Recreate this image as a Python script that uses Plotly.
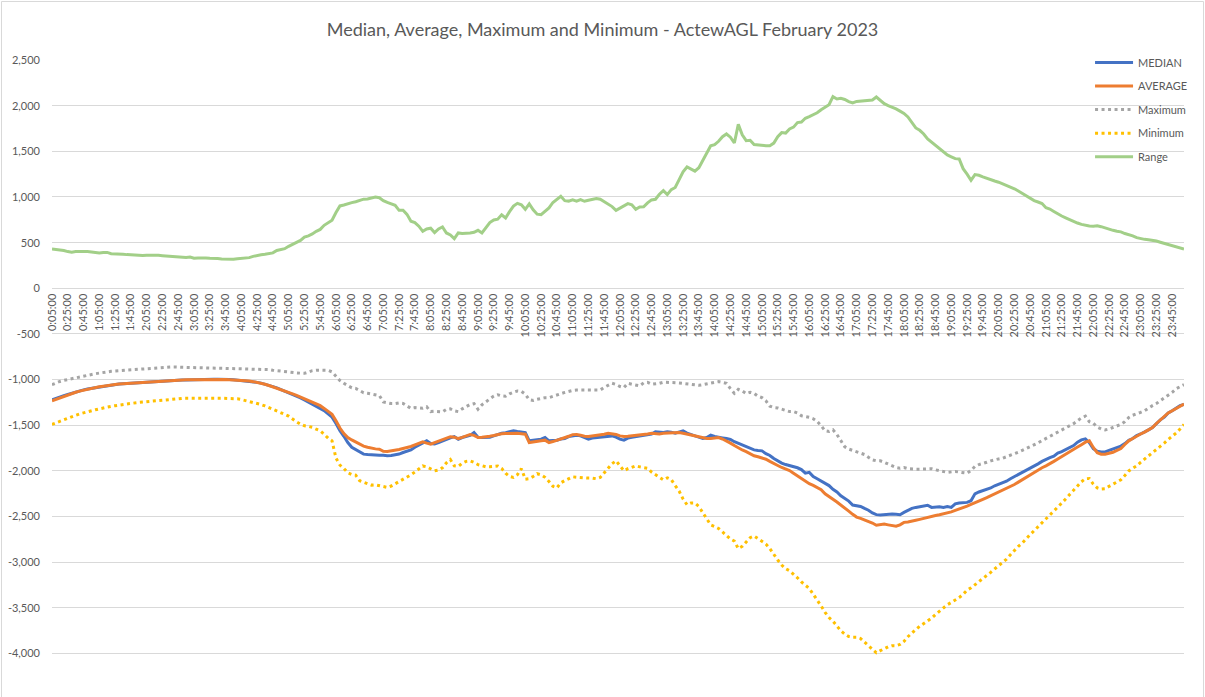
import plotly.graph_objects as go

# ---- categories: 5-minute intervals 0:05:00 .. 0:00:00 (288 points) ----
TIMES = []
for k in range(1, 289):
    m = 5 * k
    h = (m // 60) % 24
    TIMES.append(f"{h}:{m % 60:02d}:00")

MEDIAN = [
    -1222, -1205, -1190, -1175, -1163, -1150, -1131, -1122, -1112, -1102, -1095, -1085,
    -1075, -1070, -1062, -1056, -1052, -1048, -1045, -1042, -1040, -1035, -1030, -1026,
    -1024, -1021, -1019, -1015, -1012, -1009, -1007, -1006, -1005, -1004, -1003, -1001,
    -1000, -999, -998, -997, -996, -995, -996, -995, -996, -998, -1000, -1004,
    -1008, -1011, -1015, -1022, -1030, -1038, -1048, -1062, -1076, -1090, -1108, -1125,
    -1140, -1160, -1180, -1200, -1222, -1245, -1262, -1290, -1310, -1340, -1375, -1410,
    -1480, -1560, -1620, -1689, -1740, -1765, -1790, -1816, -1820, -1825, -1832, -1829,
    -1828, -1834, -1830, -1823, -1815, -1798, -1785, -1769, -1740, -1715, -1692, -1670,
    -1700, -1705, -1689, -1670, -1652, -1638, -1623, -1652, -1634, -1622, -1610, -1579,
    -1630, -1634, -1634, -1630, -1616, -1600, -1587, -1580, -1572, -1561, -1568, -1576,
    -1579, -1670, -1666, -1660, -1652, -1634, -1670, -1666, -1663, -1650, -1645, -1623,
    -1612, -1608, -1616, -1635, -1652, -1640, -1634, -1634, -1630, -1623, -1616, -1630,
    -1652, -1663, -1640, -1630, -1623, -1615, -1608, -1600, -1597, -1572, -1578, -1579,
    -1572, -1575, -1587, -1575, -1561, -1585, -1600, -1616, -1635, -1645, -1634, -1608,
    -1623, -1634, -1638, -1645, -1655, -1680, -1698, -1718, -1735, -1754, -1769, -1775,
    -1780, -1810, -1830, -1863, -1890, -1914, -1930, -1940, -1951, -1965, -1985, -2024,
    -2015, -2060, -2085, -2107, -2135, -2160, -2200, -2230, -2271, -2300, -2330, -2373,
    -2380, -2388, -2410, -2430, -2460, -2478, -2483, -2478, -2472, -2472, -2475, -2479,
    -2454, -2430, -2410, -2399, -2390, -2378, -2375, -2399, -2394, -2393, -2399, -2390,
    -2399, -2360, -2350, -2344, -2344, -2326, -2250, -2230, -2216, -2203, -2186, -2162,
    -2144, -2130, -2112, -2085, -2062, -2045, -2020, -1995, -1975, -1950, -1922, -1895,
    -1871, -1855, -1838, -1805, -1788, -1765, -1745, -1722, -1685, -1660, -1648, -1690,
    -1755, -1785, -1791, -1791, -1775, -1758, -1743, -1728, -1700, -1665, -1645, -1612,
    -1595, -1575, -1550, -1525, -1480, -1440, -1410, -1365, -1340, -1315, -1285, -1270,
]

AVERAGE = [
    -1232, -1215, -1198, -1182, -1168, -1155, -1138, -1126, -1115, -1105, -1097, -1088,
    -1078, -1072, -1064, -1058, -1053, -1049, -1046, -1043, -1040, -1036, -1031, -1027,
    -1024, -1021, -1018, -1015, -1012, -1009, -1007, -1005, -1004, -1003, -1002, -1001,
    -1000, -999, -998, -997, -997, -996, -997, -997, -998, -1000, -1002, -1005,
    -1008, -1011, -1016, -1022, -1030, -1040, -1050, -1064, -1078, -1092, -1108, -1122,
    -1138, -1155, -1172, -1190, -1210, -1228, -1245, -1262, -1285, -1315, -1345, -1380,
    -1450, -1530, -1590, -1634, -1660, -1685, -1710, -1728, -1740, -1752, -1758, -1762,
    -1785, -1786, -1780, -1774, -1765, -1754, -1745, -1732, -1715, -1700, -1681, -1695,
    -1707, -1690, -1675, -1660, -1645, -1625, -1630, -1645, -1632, -1620, -1600, -1610,
    -1634, -1630, -1627, -1620, -1612, -1598, -1592, -1590, -1588, -1587, -1587, -1592,
    -1597, -1689, -1685, -1678, -1670, -1663, -1689, -1678, -1665, -1652, -1635, -1620,
    -1602, -1600, -1608, -1620, -1622, -1618, -1612, -1608, -1598, -1587, -1592, -1600,
    -1616, -1623, -1620, -1616, -1612, -1608, -1600, -1595, -1588, -1591, -1594, -1588,
    -1587, -1587, -1585, -1579, -1588, -1597, -1605, -1615, -1630, -1640, -1645, -1645,
    -1640, -1634, -1650, -1670, -1695, -1722, -1750, -1770, -1788, -1810, -1834, -1845,
    -1855, -1871, -1895, -1914, -1940, -1962, -1975, -1995, -2025, -2055, -2085, -2115,
    -2140, -2158, -2180, -2205, -2250, -2285, -2310, -2340, -2370, -2400, -2440, -2475,
    -2505, -2519, -2535, -2548, -2570, -2595, -2592, -2582, -2590, -2599, -2605, -2590,
    -2563, -2558, -2553, -2540, -2530, -2518, -2508, -2497, -2488, -2480, -2472, -2462,
    -2448, -2432, -2418, -2403, -2385, -2367, -2345, -2326, -2310, -2292, -2272, -2252,
    -2235, -2214, -2192, -2170, -2148, -2122, -2095, -2070, -2045, -2018, -1993, -1965,
    -1944, -1922, -1895, -1868, -1840, -1814, -1788, -1762, -1738, -1712, -1685, -1670,
    -1743, -1800, -1816, -1816, -1805, -1795, -1775, -1755, -1710, -1670, -1645, -1615,
    -1595, -1575, -1550, -1525, -1480, -1440, -1410, -1365, -1340, -1315, -1285, -1268,
]

MAXIMUM = [
    -1055, -1035, -1020, -1008, -998, -988, -978, -967, -958, -950, -942, -935,
    -928, -920, -913, -909, -905, -902, -898, -894, -889, -885, -880, -876,
    -873, -870, -868, -866, -864, -862, -862, -862, -863, -863, -864, -864,
    -865, -865, -866, -867, -868, -869, -870, -872, -874, -876, -876, -878,
    -879, -880, -882, -883, -885, -886, -887, -890, -897, -903, -910, -916,
    -918, -922, -926, -929, -931, -918, -902, -896, -894, -896, -898, -915,
    -960, -1010, -1040, -1070, -1090, -1096, -1120, -1143, -1149, -1155, -1165, -1175,
    -1244, -1256, -1262, -1262, -1255, -1260, -1290, -1315, -1306, -1310, -1313, -1298,
    -1350, -1346, -1350, -1353, -1325, -1320, -1342, -1350, -1320, -1295, -1272, -1262,
    -1324, -1275, -1240, -1210, -1180, -1165, -1178, -1182, -1155, -1138, -1124, -1128,
    -1160, -1220, -1228, -1215, -1203, -1197, -1197, -1180, -1166, -1154, -1140, -1127,
    -1118, -1114, -1113, -1113, -1113, -1113, -1113, -1113, -1085, -1060, -1040, -1052,
    -1075, -1087, -1040, -1050, -1062, -1068, -1035, -1030, -1050, -1046, -1040, -1028,
    -1027, -1030, -1033, -1036, -1040, -1044, -1050, -1056, -1062, -1055, -1045, -1035,
    -1028, -1022, -1030, -1040, -1098, -1150, -1106, -1124, -1153, -1138, -1150, -1182,
    -1197, -1232, -1290, -1306, -1310, -1325, -1340, -1350, -1350, -1365, -1395, -1402,
    -1412, -1428, -1458, -1505, -1560, -1568, -1550, -1600, -1670, -1735, -1760, -1775,
    -1791, -1800, -1820, -1850, -1878, -1889, -1889, -1905, -1925, -1944, -1962, -1970,
    -1962, -1975, -1980, -1980, -1980, -1978, -1972, -1975, -1987, -1998, -2008, -2015,
    -2010, -2005, -2012, -2018, -2025, -1995, -1950, -1930, -1920, -1905, -1889, -1875,
    -1868, -1860, -1845, -1830, -1818, -1795, -1775, -1756, -1737, -1715, -1692, -1667,
    -1645, -1622, -1600, -1578, -1555, -1530, -1505, -1482, -1450, -1418, -1400, -1460,
    -1477, -1520, -1540, -1550, -1540, -1525, -1508, -1490, -1460, -1415, -1390, -1370,
    -1358, -1340, -1310, -1285, -1262, -1235, -1200, -1170, -1140, -1100, -1075, -1055,
]

MINIMUM = [
    -1490, -1472, -1455, -1440, -1425, -1408, -1390, -1375, -1362, -1350, -1340, -1330,
    -1320, -1308, -1300, -1292, -1285, -1278, -1271, -1264, -1258, -1253, -1249, -1245,
    -1242, -1238, -1235, -1231, -1227, -1222, -1218, -1214, -1210, -1205, -1204, -1204,
    -1204, -1204, -1204, -1204, -1204, -1204, -1204, -1204, -1204, -1205, -1207, -1210,
    -1218, -1228, -1238, -1250, -1260, -1273, -1288, -1305, -1320, -1338, -1355, -1380,
    -1400, -1435, -1462, -1488, -1506, -1512, -1522, -1543, -1560, -1598, -1640, -1670,
    -1860, -1935, -1972, -2020, -2040, -2046, -2107, -2123, -2140, -2155, -2152, -2160,
    -2173, -2180, -2165, -2142, -2110, -2088, -2068, -2042, -2012, -1975, -1945, -1955,
    -1975, -1998, -1990, -1965, -1910, -1875, -1945, -1950, -1915, -1895, -1889, -1905,
    -1930, -1946, -1954, -1954, -1950, -1945, -1972, -2025, -2060, -2070, -2040, -1975,
    -2090, -2085, -2060, -2030, -2042, -2070, -2115, -2168, -2185, -2130, -2105, -2080,
    -2064, -2068, -2073, -2077, -2078, -2078, -2085, -2070, -2020, -1960, -1920, -1889,
    -1944, -1998, -1975, -1955, -1944, -1955, -1962, -1970, -2012, -2040, -2075, -2097,
    -2075, -2095, -2160, -2220, -2308, -2370, -2352, -2352, -2390, -2455, -2530, -2590,
    -2608, -2630, -2668, -2710, -2745, -2768, -2850, -2825, -2775, -2730, -2712, -2740,
    -2765, -2800, -2850, -2915, -2975, -3030, -3070, -3093, -3128, -3170, -3215, -3248,
    -3287, -3350, -3410, -3478, -3548, -3605, -3645, -3697, -3750, -3786, -3812, -3820,
    -3820, -3835, -3872, -3910, -3953, -3991, -3968, -3945, -3926, -3913, -3914, -3900,
    -3867, -3815, -3770, -3736, -3700, -3670, -3640, -3612, -3572, -3535, -3502, -3465,
    -3440, -3415, -3387, -3350, -3305, -3280, -3248, -3215, -3182, -3148, -3110, -3073,
    -3040, -3005, -2965, -2917, -2867, -2826, -2790, -2740, -2696, -2654, -2612, -2570,
    -2525, -2482, -2440, -2398, -2352, -2306, -2258, -2208, -2162, -2118, -2085, -2082,
    -2144, -2185, -2199, -2195, -2168, -2145, -2120, -2097, -2050, -2000, -1970, -1944,
    -1905, -1870, -1838, -1805, -1772, -1735, -1695, -1655, -1622, -1585, -1540, -1492,
]

RANGE = [
    431, 427, 423, 414, 402, 395, 402, 405, 405, 403, 398, 392,
    387, 391, 393, 378, 378, 380, 374, 369, 365, 361, 359, 358,
    361, 363, 365, 361, 357, 354, 351, 350, 350, 340, 338, 343,
    330, 333, 336, 331, 328, 331, 326, 321, 318, 314, 319, 324,
    328, 332, 336, 350, 362, 367, 372, 380, 388, 415, 428, 434,
    460, 485, 504, 525, 560, 575, 595, 624, 645, 690, 720, 745,
    830, 902, 912, 927, 938, 948, 962, 976, 978, 985, 1000, 992,
    960, 940, 925, 910, 854, 854, 810, 734, 720, 680, 624, 650,
    658, 610, 650, 672, 606, 585, 544, 606, 600, 599, 605, 613,
    635, 606, 670, 720, 748, 757, 805, 770, 840, 900, 930, 915,
    865, 925, 860, 812, 807, 845, 880, 940, 975, 1007, 960, 955,
    968, 955, 971, 953, 965, 978, 984, 975, 948, 928, 895, 854,
    878, 905, 927, 914, 865, 890, 892, 935, 968, 975, 1030, 1070,
    1026, 1080, 1104, 1190, 1275, 1329, 1305, 1283, 1320, 1400, 1464, 1560,
    1573, 1610, 1660, 1690, 1655, 1591, 1795, 1680, 1617, 1621, 1575, 1568,
    1564, 1562, 1561, 1590, 1660, 1705, 1700, 1745, 1765, 1815, 1820, 1862,
    1880, 1900, 1922, 1955, 1982, 2010, 2098, 2073, 2080, 2068, 2044, 2029,
    2046, 2048, 2050, 2055, 2062, 2095, 2055, 2022, 2000, 1986, 1965, 1940,
    1915, 1876, 1810, 1756, 1730, 1690, 1635, 1600, 1570, 1540, 1500, 1460,
    1440, 1420, 1416, 1310, 1250, 1183, 1245, 1238, 1220, 1202, 1185, 1175,
    1162, 1145, 1130, 1112, 1090, 1065, 1040, 1008, 982, 960, 945, 928,
    882, 868, 842, 815, 792, 772, 750, 734, 715, 700, 690, 682,
    680, 684, 675, 660, 645, 635, 625, 618, 600, 588, 575, 555,
    542, 536, 531, 526, 518, 505, 492, 480, 471, 460, 442, 430,
]

Y_TICKS = [2500, 2000, 1500, 1000, 500, 0, -500, -1000, -1500, -2000, -2500, -3000, -3500, -4000]
X_TICKS = TIMES[::4]

for s in (MEDIAN, AVERAGE, MAXIMUM, MINIMUM, RANGE):
    assert len(s) == len(TIMES)

YMIN, YMAX = -4475, 2500
FONT = "Lato, 'Open Sans', sans-serif"
TXT = "#595959"

fig = go.Figure()
series = [
    ("MEDIAN", MEDIAN, dict(color="#4472C4", width=3)),
    ("AVERAGE", AVERAGE, dict(color="#ED7D31", width=3)),
    ("Maximum", MAXIMUM, dict(color="#A5A5A5", width=3, dash="3px,3.5px")),
    ("Minimum", MINIMUM, dict(color="#FFC000", width=3, dash="3px,3.5px")),
    ("Range", RANGE, dict(color="#A2CF88", width=3)),
]
for name, vals, line in series:
    fig.add_trace(go.Scatter(x=TIMES, y=vals, name=name, mode="lines", line=line,
                             legendgroup=name))

fig.update_layout(
    width=1205, height=697,
    margin=dict(l=52, r=21, t=60, b=0),
    paper_bgcolor="white", plot_bgcolor="white",
    font=dict(family=FONT, color=TXT),
    title=dict(text="Median, Average, Maximum and Minimum - ActewAGL February 2023",
               x=0.5, xanchor="center", y=1 - 30 / 697, yanchor="middle",
               font=dict(size=18, color=TXT, family=FONT)),
    showlegend=True,
    legend=dict(x=0.917, xanchor="left", y=1.019, yanchor="top",
                bgcolor="rgba(0,0,0,0)", font=dict(size=11, color=TXT),
                tracegroupgap=4.6, itemwidth=38, traceorder="grouped"),
    xaxis=dict(type="category", range=[0, len(TIMES) - 1],
               anchor="free", position=(0 - YMIN) / (YMAX - YMIN),
               showline=True, linecolor="#D9D9D9", linewidth=1,
               showgrid=False, zeroline=False, ticks="",
               tickmode="array", tickvals=X_TICKS, ticktext=X_TICKS,
               tickangle=-90, tickfont=dict(size=11, color=TXT)),
    yaxis=dict(range=[YMIN, YMAX], showgrid=True, gridcolor="#D9D9D9", gridwidth=1,
               zeroline=False, showline=False, ticks="",
               tickmode="array", tickvals=Y_TICKS,
               ticktext=[f"{v:,}" for v in Y_TICKS],
               tickfont=dict(size=11, color=TXT), ticklabelstandoff=11),
)

# chart-area border (Excel style)
fig.add_shape(type="rect", xref="paper", yref="paper",
              x0=-50.5 / 1132, x1=1151.5 / 1132, y0=-0.01, y1=(697 - 1.5) / 637,
              line=dict(color="#D9D9D9", width=1), fillcolor="rgba(0,0,0,0)",
              layer="below")

fig.write_html("out.html", config={"displayModeBar": False},
               post_script="document.body.style.margin='0';document.body.style.overflow='hidden';")
